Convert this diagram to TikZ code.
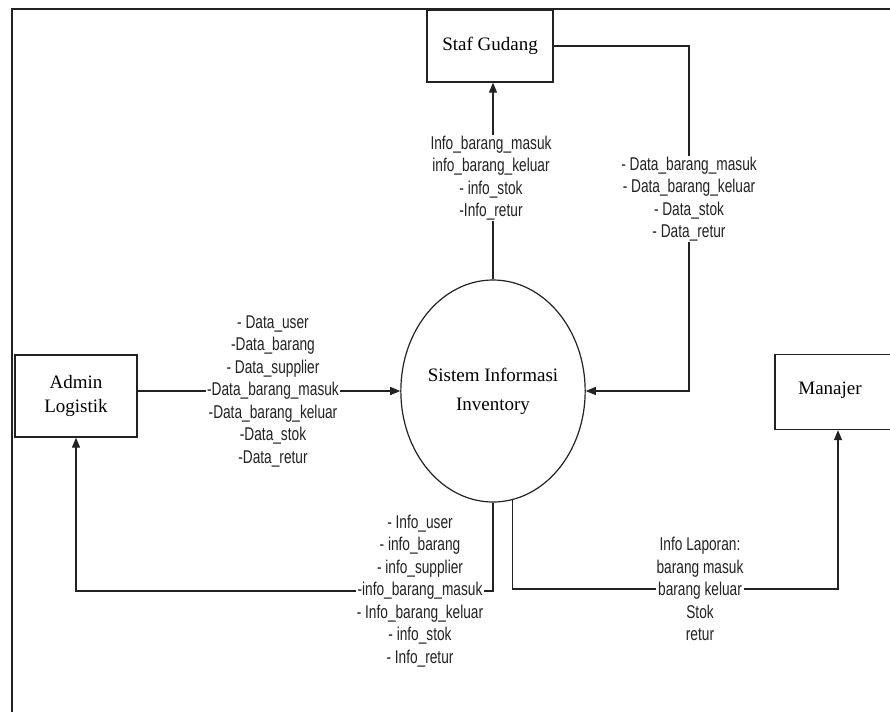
\documentclass[tikz,border=0pt]{standalone}
\usepackage{fontspec}
\setmainfont{Liberation Serif}
\newfontfamily\narrowsans[FakeStretch=0.74]{Liberation Sans}
\usetikzlibrary{shapes.geometric,arrows.meta}
\definecolor{ink}{HTML}{222222}
\tikzset{
  entity/.style={draw=ink, line width=1.3pt, fill=white, font=\fontsize{19}{22}\selectfont, inner sep=0pt},
  proc/.style={ellipse, draw=ink, line width=1.2pt, inner sep=0pt, minimum width=158pt, minimum height=222pt, align=center, font=\fontsize{19}{29}\selectfont},
  flow/.style={draw=ink, line width=1.2pt},
  arr/.style={flow, -{Triangle[length=10pt,width=8pt]}},
  lbl/.style={fill=white, inner sep=1pt, align=center, text=ink, font=\narrowsans\fontsize{18.5}{22.5}\selectfont},
  frame/.style={draw=ink, line width=2pt}
}
\begin{document}
\begin{tikzpicture}[x=1pt,y=-1pt]
\useasboundingbox (0,0) rectangle (890,712);
\clip (0,0) rectangle (890,712);
\fill[white] (0,0) rectangle (890,712);
\draw[frame] (12,712) -- (12,9) -- (890,9);

\node[entity, minimum width=126pt, minimum height=72pt] (staf) at (490,46) {Staf Gudang};
\node[entity, minimum width=122pt, minimum height=82pt, align=center, font=\fontsize{19}{24}\selectfont] (admin) at (76,396) {Admin\\Logistik};
\node[entity, minimum width=126pt, minimum height=75pt] (man) at (838,392) {};
\node[font=\fontsize{19}{22}\selectfont] (mantext) at (830,390) {Manajer};
\node[proc] (ell) at (493,391) {Sistem Informasi\\Inventory};

% Admin -> Sistem
\draw[arr] (admin.east |- ell.west) -- (ell.west);
\node[lbl] (l1) at (273,391) {- Data\_user\\-Data\_barang\\- Data\_supplier\\-Data\_barang\_masuk\\-Data\_barang\_keluar\\-Data\_stok\\-Data\_retur};

% Sistem -> Staf Gudang
\draw[arr] (ell.north) -- (ell.north |- staf.south);
\node[lbl] (l2) at (491,178) {Info\_barang\_masuk\\info\_barang\_keluar\\- info\_stok\\-Info\_retur};

% Staf Gudang -> Sistem
\coordinate (sr) at (689,46);
\draw[arr] (staf.east) -- (sr) |- (ell.east);
\node[lbl] (l3) at (689,199) {- Data\_barang\_masuk\\- Data\_barang\_keluar\\- Data\_stok\\- Data\_retur};

% Sistem -> Admin
\coordinate (bl) at (ell.south |- 0,591);
\draw[arr] (ell.south) -- (bl) -| (admin.south);
\node[lbl] (l4) at (420,591) {- Info\_user\\- info\_barang\\- info\_supplier\\-info\_barang\_masuk\\- Info\_barang\_keluar\\- info\_stok\\- Info\_retur};

% Sistem -> Manajer
\coordinate (br) at (ell.-80 |- 0,589);
\draw[arr] (ell.-80) -- (br) -| (man.south);
\node[lbl] (l5) at (700,589) {Info Laporan:\\barang masuk\\barang keluar\\Stok\\retur};
\end{tikzpicture}
\end{document}
